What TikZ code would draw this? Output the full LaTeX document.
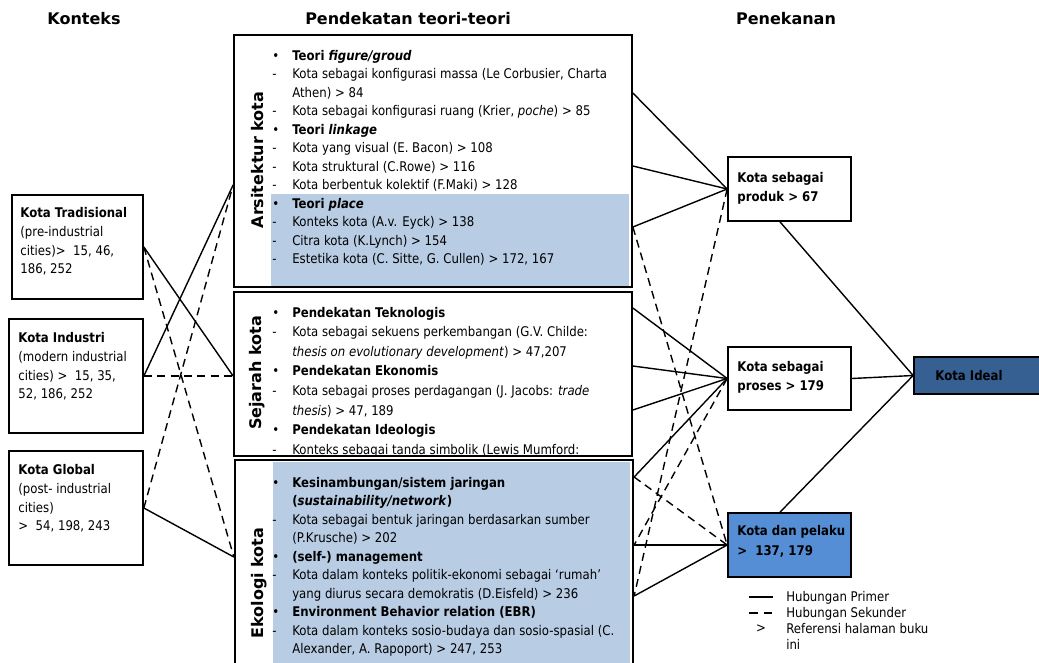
\documentclass[tikz,border=0pt]{standalone}
\usepackage{fontspec}
\setmainfont{DejaVu Sans}[FakeStretch=0.88]
\newfontfamily\headfont{DejaVu Sans}
\usepackage{array}
\usetikzlibrary{calc}
\definecolor{paleblue}{HTML}{B8CCE4}
\definecolor{midblue}{HTML}{558ED5}
\definecolor{darkblue}{HTML}{376092}
\tikzstyle{heading}=[font=\headfont\fontsize{12}{14}\selectfont\bfseries]
\tikzstyle{sidelabel}=[font=\headfont\fontsize{12}{14}\selectfont\bfseries,rotate=90]
\tikzstyle{panel}=[draw,line width=1.3pt,inner sep=0pt,minimum width=298.5pt]
\tikzstyle{ctxbox}=[draw,line width=1.3pt,inner sep=0pt]
\tikzstyle{aimbox}=[draw,line width=1.3pt,inner sep=0pt,minimum width=92.25pt,minimum height=48pt]
\tikzstyle{lines}=[anchor=base west,inner sep=0pt,font=\fontsize{10}{14.2}\selectfont]
\tikzstyle{theory}=[anchor=base west,inner sep=0pt,font=\fontsize{10}{13.9}\selectfont]
\tikzstyle{primary}=[draw,line width=1.05pt]
\tikzstyle{secondary}=[draw,line width=1.05pt,dash pattern=on 6pt off 4pt]
\newcommand{\rows}[1]{\begin{tabular}[t]{@{}l@{}}#1\end{tabular}}
\newcommand{\items}[1]{\begin{tabular}[t]{@{}p{15pt}@{}l@{}}#1\end{tabular}}

\begin{document}
\begin{tikzpicture}[x=0.75pt,y=-0.75pt]
  \useasboundingbox (0,0) rectangle (1039,662);
  \clip (0,0) rectangle (1039,662);

  % Column headings
  \node[heading] (konteks) at (84,19) {Konteks};
  \node[heading] (pendekatan) at (408,19) {Pendekatan teori-teori};
  \node[heading] (penekanan) at (786,19) {Penekanan};

  % First we draw the context boxes
  \node[ctxbox,minimum width=98.25pt,minimum height=78pt] (trad) at (77.5,247) {};
  \node[ctxbox,minimum width=100.5pt,minimum height=85.5pt] (ind) at (76,376) {};
  \node[ctxbox,minimum width=100.5pt,minimum height=85.5pt] (glob) at (76,508) {};
  \node[lines] at ($(trad.north west)+(9,23)$)
    {\rows{\textbf{Kota Tradisional}\\(pre-industrial\\cities)>~ 15, 46,\\186, 252}};
  \node[lines] at ($(ind.north west)+(10,24)$)
    {\rows{\textbf{Kota Industri}\\(modern industrial\\cities) >~ 15, 35,\\52, 186, 252}};
  \node[lines] at ($(glob.north west)+(10,24)$)
    {\rows{\textbf{Kota Global}\\(post- industrial\\cities)\\>~ 54, 198, 243}};

  % Theory panels
  \fill[paleblue] (271,194) rectangle (629,286);
  \fill[paleblue] (273,462) rectangle (630,665);
  \node[panel,minimum height=189pt] (ars) at (433,161) {};
  \node[panel,minimum height=123pt] (sej) at (433,374) {};
  \node[panel,minimum height=165pt,line width=1.7pt] (eko) at (434,570) {};

  \node[sidelabel] at (258,160) {Arsitektur kota};
  \node[sidelabel] at (257,373) {Sejarah kota};
  \node[sidelabel] at (259,583) {Ekologi kota};

  \node[theory] (arstext) at (272,60) {\items{
    \textbullet & \textbf{Teori \textit{figure/groud}}\\
    - & Kota sebagai konfigurasi massa (Le Corbusier, Charta\\
      & Athen) > 84\\
    - & Kota sebagai konfigurasi ruang (Krier, \textit{poche}) > 85\\
    \textbullet & \textbf{Teori \textit{linkage}}\\
    - & Kota yang visual (E. Bacon) > 108\\
    - & Kota struktural (C.Rowe) > 116\\
    - & Kota berbentuk kolektif (F.Maki) > 128\\
    \textbullet & \textbf{Teori \textit{place}}\\
    - & Konteks kota (A.v. Eyck) > 138\\
    - & Citra kota (K.Lynch) > 154\\
    - & Estetika kota (C. Sitte, G. Cullen) > 172, 167}};

  \begin{scope}
    \clip (sej.south west) rectangle (sej.north east);
    \node[theory,font=\fontsize{10}{14.7}\selectfont] (sejtext) at (272,317) {\items{
      \textbullet & \textbf{Pendekatan Teknologis}\\
      - & Kota sebagai sekuens perkembangan (G.V. Childe:\\
        & \textit{thesis on evolutionary development}) > 47,207\\
      \textbullet & \textbf{Pendekatan Ekonomis}\\
      - & Kota sebagai proses perdagangan (J. Jacobs: \textit{trade}\\
        & \textit{thesis}) > 47, 189\\
      \textbullet & \textbf{Pendekatan Ideologis}\\
      - & Konteks sebagai tanda simbolik (Lewis Mumford:}};
  \end{scope}

  \node[theory] (ekotext) at (272,487) {\items{
    \textbullet & \textbf{Kesinambungan/sistem jaringan}\\
      & \textbf{(\textit{sustainability/network})}\\
    - & Kota sebagai bentuk jaringan berdasarkan sumber\\
      & (P.Krusche) > 202\\
    \textbullet & \textbf{(self-) management}\\
    - & Kota dalam konteks politik-ekonomi sebagai ‘rumah’\\
      & yang diurus secara demokratis (D.Eisfeld) > 236\\
    \textbullet & \textbf{Environment Behavior relation (EBR)}\\
    - & Kota dalam konteks sosio-budaya dan sosio-spasial (C.\\
      & Alexander, A. Rapoport) > 247, 253}};

  % Emphasis boxes and the goal
  \node[aimbox,fill=white] (produk) at (789.5,189) {};
  \node[aimbox,fill=white,minimum height=47.25pt] (proses) at (789.5,378.5) {};
  \node[aimbox,fill=midblue] (pelaku) at (789.5,545) {};
  \node[ctxbox,fill=darkblue,minimum width=114pt,minimum height=27.75pt] (ideal) at (990,375.5) {};
  \node[lines,font=\fontsize{10}{14.6}\selectfont\bfseries] at ($(produk.north west)+(10,26)$)
    {\rows{Kota sebagai\\produk > 67}};
  \node[lines,font=\fontsize{10}{14.6}\selectfont\bfseries] at ($(proses.north west)+(10,25)$)
    {\rows{Kota sebagai\\proses > 179}};
  \node[lines,font=\fontsize{10}{15.6}\selectfont\bfseries] at ($(pelaku.north west)+(10,23)$)
    {\rows{Kota dan pelaku\\>~ 137, 179}};
  \node[font=\fontsize{10}{12}\selectfont\bfseries,anchor=west,inner sep=0pt]
    at ($(ideal.west)+(22,0)$) {Kota Ideal};

  % Ports on the panel sides
  \coordinate (arsW) at (ars.west |- 0,185);
  \coordinate (sejW) at (sej.west |- 0,376);
  \coordinate (ekoW) at (eko.west |- 0,557);
  \foreach \name/\y in {arsA/93, arsB/166, arsC/227}
    \coordinate (\name) at (ars.east |- 0,\y);
  \foreach \name/\y in {sejA/308, sejB/366, sejC/410}
    \coordinate (\name) at (sej.east |- 0,\y);
  \foreach \name/\y in {ekoA/477, ekoB/545, ekoC/596}
    \coordinate (\name) at (eko.east |- 0,\y);
  \coordinate (produkS) at (produk.south -| 780,0);
  \coordinate (pelakuN) at (pelaku.north -| 780,0);

  % Connect boxes with primary relations
  \foreach \source/\dest in {trad.east/sejW, ind.east/arsW, glob.east/ekoW,
      arsA/produk.west, arsB/produk.west, arsC/produk.west,
      sejA/proses.west, sejB/proses.west, sejC/proses.west,
      ekoA/proses.west, ekoB/pelaku.west, ekoC/pelaku.west,
      produkS/ideal.west, proses.east/ideal.west, pelakuN/ideal.west}
    \path[primary] (\source) -- (\dest);

  % and secondary relations
  \foreach \source/\dest in {trad.east/ekoW, glob.east/arsW, ind.east/sejW,
      arsC/pelaku.west, produk.west/ekoC, proses.west/ekoB, ekoA/pelaku.west}
    \path[secondary] (\source) -- (\dest);

  % Legend
  \coordinate (solidA) at (749,597);
  \coordinate (solidB) at (773,597);
  \coordinate (dashA) at (749,613);
  \coordinate (dashB) at (773,613);
  \path[primary] (solidA) -- (solidB);
  \path[draw,line width=1.05pt,dash pattern=on 6.5pt off 4.5pt] (dashA) -- (dashB);
  \node[font=\fontsize{10}{12}\selectfont,inner sep=0pt] (refmark) at (761,629) {>};
  \node[lines,font=\fontsize{10}{12}\selectfont] (legend) at (786,601)
    {\rows{Hubungan Primer\\Hubungan Sekunder\\Referensi halaman buku\\ini}};
\end{tikzpicture}
\end{document}
